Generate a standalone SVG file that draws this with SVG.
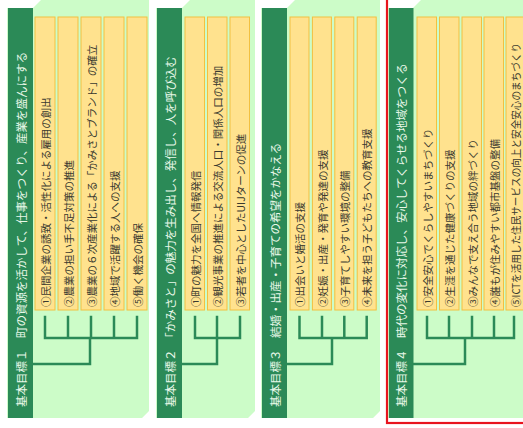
<svg xmlns="http://www.w3.org/2000/svg" width="523" height="428" viewBox="0 0 523 428">
<defs>
<style>
.bg{fill:#ccfcc8;}
.bar{fill:#2b8a57;}
.box{fill:#ffe28e;stroke:#f2c040;stroke-width:1;}
.bt{font-family:"Noto Sans CJK JP","Noto Sans",sans-serif;font-size:11.5px;fill:#e8f8e8;dominant-baseline:central;}
.it{font-family:"Noto Sans CJK JP","Noto Sans",sans-serif;font-size:10.5px;fill:#3a3a30;dominant-baseline:central;}
.ln{fill:none;stroke:#2b8a57;stroke-width:2.5;stroke-linecap:square;}
</style>
</defs>
<rect width="523" height="428" fill="#ffffff"/>

<!-- panel backgrounds -->
<polygon class="bg" points="7,8 33,8 42,-1 149,-1 149,411 142,418 7,418"/>
<polygon class="bg" points="156,8 182,8 191,-1 255,-1 255,411 248,418 156,418"/>
<polygon class="bg" points="261,8 287,8 296,-1 380,-1 380,411 373,418 261,418"/>
<polygon class="bg" points="388,8 413,8 422,-1 524,-1 524,418 388,418"/>
<rect x="387" y="-5" width="140" height="428" fill="none" stroke="#e8141e" stroke-width="2.2"/>

<g id="goal1">
<rect class="bar" x="8" y="8" width="25" height="410"/>
<text class="bt" transform="translate(21,407) rotate(-90)">基本目標１　町の資源を活かして、仕事をつくり、産業を盛んにする</text>
</g>
<g id="g1-1"><rect class="box" x="35" y="17" width="20" height="293"/><text class="it" transform="translate(45,307) rotate(-90)">①民間企業の誘致・活性化による雇用の創出</text></g>
<g id="g1-2"><rect class="box" x="58" y="17" width="20" height="293"/><text class="it" transform="translate(68,307) rotate(-90)">②農業の担い手不足対策の推進</text></g>
<g id="g1-3"><rect class="box" x="81" y="17" width="20" height="293"/><text class="it" transform="translate(91,307) rotate(-90)">③農業の６次産業化による「かみさとブランド」の確立</text></g>
<g id="g1-4"><rect class="box" x="104" y="17" width="20" height="293"/><text class="it" transform="translate(114,307) rotate(-90)">④地域で活躍する人への支援</text></g>
<g id="g1-5"><rect class="box" x="127" y="17" width="20" height="293"/><text class="it" transform="translate(137,307) rotate(-90)">⑤働く機会の確保</text></g>

<g id="goal2">
<rect class="bar" x="157" y="8" width="25" height="410"/>
<text class="bt" transform="translate(170,407) rotate(-90)">基本目標２　「かみさと」の魅力を生み出し、発信し、人を呼び込む</text>
</g>
<g id="g2-1"><rect class="box" x="185" y="17" width="19.5" height="293"/><text class="it" transform="translate(195,307) rotate(-90)">①町の魅力を全国へ情報発信</text></g>
<g id="g2-2"><rect class="box" x="207.5" y="17" width="19.5" height="293"/><text class="it" transform="translate(217,307) rotate(-90)">②観光事業の推進による交流人口・関係人口の増加</text></g>
<g id="g2-3"><rect class="box" x="230" y="17" width="19.5" height="293"/><text class="it" transform="translate(240,307) rotate(-90)">③若者を中心としたUIJターンの促進</text></g>

<g id="goal3">
<rect class="bar" x="262" y="8" width="25" height="410"/>
<text class="bt" transform="translate(275,407) rotate(-90)">基本目標３　結婚・出産・子育ての希望をかなえる</text>
</g>
<g id="g3-1"><rect class="box" x="290" y="17" width="19" height="293"/><text class="it" transform="translate(299.5,307) rotate(-90)">①出会いと婚活の支援</text></g>
<g id="g3-2"><rect class="box" x="312.4" y="17" width="19" height="293"/><text class="it" transform="translate(322,307) rotate(-90)">②妊娠・出産・発育や発達の支援</text></g>
<g id="g3-3"><rect class="box" x="334.8" y="17" width="19" height="293"/><text class="it" transform="translate(344.3,307) rotate(-90)">③子育てしやすい環境の整備</text></g>
<g id="g3-4"><rect class="box" x="357.2" y="17" width="19" height="293"/><text class="it" transform="translate(366.7,307) rotate(-90)">④未来を担う子どもたちへの教育支援</text></g>

<g id="goal4">
<rect class="bar" x="389" y="8" width="24.5" height="410"/>
<text class="bt" transform="translate(401,407) rotate(-90)">基本目標４　時代の変化に対応し、安心してくらせる地域をつくる</text>
</g>
<g id="g4-1"><rect class="box" x="417" y="17" width="19.5" height="293"/><text class="it" transform="translate(427,307) rotate(-90)">①安全安心でくらしやすいまちづくり</text></g>
<g id="g4-2"><rect class="box" x="439.5" y="17" width="19.5" height="293"/><text class="it" transform="translate(449,307) rotate(-90)">②生涯を通じた健康づくりの支援</text></g>
<g id="g4-3"><rect class="box" x="462" y="17" width="19.5" height="293"/><text class="it" transform="translate(472,307) rotate(-90)">③みんなで支え合う地域の絆づくり</text></g>
<g id="g4-4"><rect class="box" x="484" y="17" width="19.5" height="293"/><text class="it" transform="translate(494,307) rotate(-90)">④誰もが住みやすい都市基盤の整備</text></g>
<g id="g4-5"><rect class="box" x="506" y="17" width="21" height="293"/><text class="it" transform="translate(515.5,307) rotate(-90)" textLength="264" lengthAdjust="spacingAndGlyphs">⑤ICTを活用した住民サービスの向上と安全安心のまちづくり</text></g>

<g id="connectors">
<path class="ln" d="M45,317V338M68,317V338M91,317V338M114,317V338M137,317V338M45,338H137M90,338V364H33"/>
<path class="ln" d="M195,317V338M217,317V338M240,317V338M195,338H240M217,338V364H182"/>
<path class="ln" d="M299.5,317V338M322,317V338M344.3,317V338M366.7,317V338M299.5,338H366.7M332,338V364H287"/>
<path class="ln" d="M427,317V338M449,317V338M472,317V338M494,317V338M514,317V338M427,338H514M465,338V364H413.5"/>
</g>
</svg>
